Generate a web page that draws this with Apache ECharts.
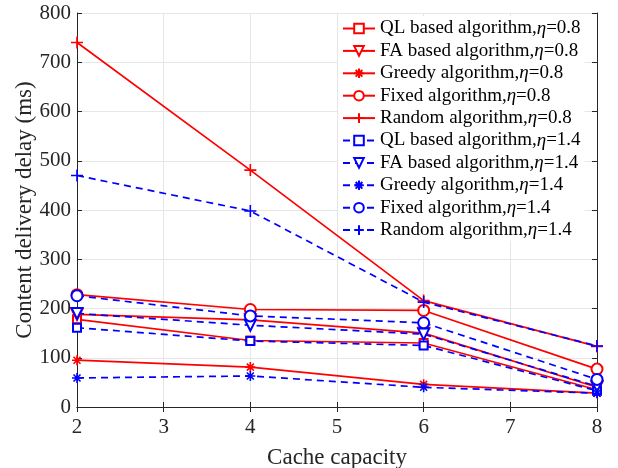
<!DOCTYPE html>
<html><head><meta charset="utf-8">
<script src="https://cdn.jsdelivr.net/npm/echarts@6/dist/echarts.min.js"></script>
<style>html,body{margin:0;padding:0;background:#fff}#c{width:618px;height:468px}</style>
</head><body><div id="c"></div>
<script>
const capacity = [2, 4, 6, 8];
const xTicks = [2, 3, 4, 5, 6, 7, 8];
const yTicks = [0, 100, 200, 300, 400, 500, 600, 700, 800];
const seriesNames = [
  "QL based algorithm,η=0.8", "FA based algorithm,η=0.8", "Greedy algorithm,η=0.8",
  "Fixed algorithm,η=0.8", "Random algorithm,η=0.8",
  "QL based algorithm,η=1.4", "FA based algorithm,η=1.4", "Greedy algorithm,η=1.4",
  "Fixed algorithm,η=1.4", "Random algorithm,η=1.4"
];
const ql08 = [178, 135, 130, 35];
const fa08 = [188, 177, 150, 40];
const greedy08 = [95, 81, 46, 28];
const fixed08 = [228, 198, 196, 77];
const random08 = [740, 481, 216, 123];
const ql14 = [161, 134, 125, 33];
const fa14 = [190, 166, 148, 42];
const greedy14 = [59, 63, 40, 28];
const fixed14 = [226, 185, 171, 56];
const random14 = [470, 398, 213, 124];
const values = [ql08, fa08, greedy08, fixed08, random08, ql14, fa14, greedy14, fixed14, random14];

const STAR = 'path://M5,0L5,10M0,5L10,5M1.5,1.5L8.5,8.5M8.5,1.5L1.5,8.5';
const PLUS = 'path://M5,0L5,10M0,5L10,5';
const markers = [
  {symbol: 'emptyRect', size: 8, rotate: 0},
  {symbol: 'emptyTriangle', size: 11, rotate: 180},
  {symbol: STAR, size: 10, rotate: 0},
  {symbol: 'emptyCircle', size: 11, rotate: 0},
  {symbol: PLUS, size: 12, rotate: 0}
];
const FONT = "'Liberation Serif', 'Times New Roman', serif";

const series = values.map((v, i) => {
  const red = i < 5;
  const col = red ? '#ff0000' : '#0000ff';
  const m = markers[i % 5];
  return {
    name: seriesNames[i],
    type: 'line',
    data: capacity.map((c, k) => [c, v[k]]),
    symbol: m.symbol,
    symbolSize: m.size,
    symbolRotate: m.rotate,
    showAllSymbol: true,
    lineStyle: {color: col, width: 1.7, type: red ? 'solid' : [7, 5]},
    itemStyle: {color: col, borderColor: col, borderWidth: 1.6},
    emphasis: {disabled: true},
    z: red ? 3 : 4,
    animation: false
  };
});

const chart = echarts.init(document.getElementById('c'), null, {renderer: 'canvas'});
chart.setOption({
  animation: false,
  backgroundColor: '#fff',
  grid: {left: 77, right: 21, top: 13, bottom: 61, containLabel: false, outerBoundsMode: 'none'},
  legend: {
    orient: 'vertical',
    left: 338, top: 16,
    itemWidth: 32, itemHeight: 12,
    itemGap: 3.4,
    padding: [3, 4, 1, 4],
    backgroundColor: '#fff',
    textStyle: {fontFamily: FONT, fontSize: 19, color: '#000',
      rich: {a: {fontFamily: FONT, fontSize: 19, color: '#000'},
             i: {fontFamily: FONT, fontSize: 19, fontStyle: 'italic', color: '#000'}}},
    formatter: function (name) {
      const p = name.split('η');
      return '{a|' + p[0] + '}{i|η}{a|' + p[1] + '}';
    },
    data: seriesNames,
    z: 1
  },
  xAxis: [{
    type: 'value', min: xTicks[0], max: xTicks[xTicks.length - 1], interval: 1,
    name: 'Cache capacity', nameLocation: 'middle', nameGap: 39, nameMoveOverlap: false,
    nameTextStyle: {fontFamily: FONT, fontSize: 23, color: '#262626'},
    axisLine: {lineStyle: {color: '#262626', width: 1}},
    axisTick: {inside: true, length: 5, lineStyle: {color: '#262626'}},
    axisLabel: {fontFamily: FONT, fontSize: 21, color: '#262626', margin: 10},
    splitLine: {show: true, lineStyle: {color: '#e6e6e6', width: 1}}
  }, {
    type: 'value', position: 'top', min: 2, max: 8, interval: 1,
    axisLine: {show: true, lineStyle: {color: '#262626', width: 1}},
    axisTick: {inside: true, length: 5, lineStyle: {color: '#262626'}},
    axisLabel: {show: false}, splitLine: {show: false}
  }],
  yAxis: [{
    type: 'value', min: yTicks[0], max: yTicks[yTicks.length - 1], interval: 100,
    name: 'Content delivery delay (ms)', nameLocation: 'middle', nameGap: 41, nameMoveOverlap: false,
    nameTextStyle: {fontFamily: FONT, fontSize: 23, color: '#262626'},
    axisLine: {show: true, lineStyle: {color: '#262626', width: 1}},
    axisTick: {show: true, inside: true, length: 5, lineStyle: {color: '#262626'}},
    axisLabel: {fontFamily: FONT, fontSize: 21, color: '#262626', margin: 6},
    splitLine: {show: true, lineStyle: {color: '#e6e6e6', width: 1}}
  }, {
    type: 'value', position: 'right', min: 0, max: 800, interval: 100,
    axisLine: {show: true, lineStyle: {color: '#262626', width: 1}},
    axisTick: {show: true, inside: true, length: 5, lineStyle: {color: '#262626'}},
    axisLabel: {show: false}, splitLine: {show: false}
  }],
  series: series
});
</script>
</body></html>
